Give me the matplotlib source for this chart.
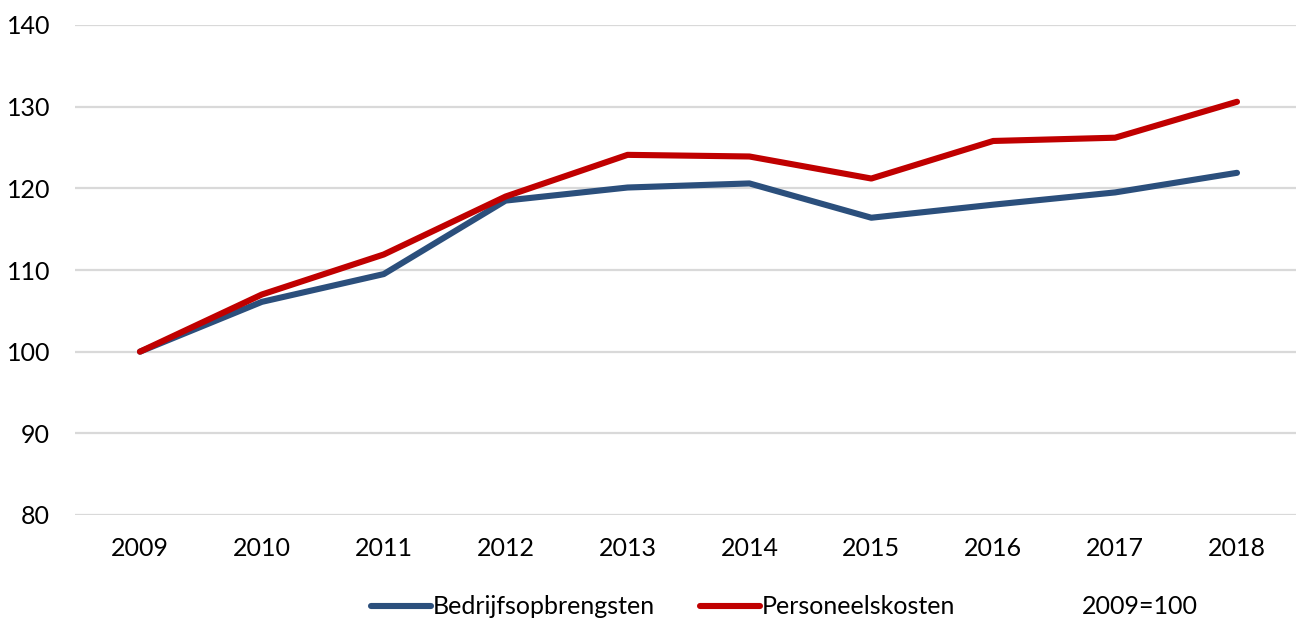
import matplotlib.pyplot as plt

plt.rcParams['font.family'] = ['Lato', 'DejaVu Sans']

years = ['2009', '2010', '2011', '2012', '2013', '2014', '2015', '2016', '2017', '2018']
bedrijfsopbrengsten = [100, 106.1, 109.5, 118.5, 120.1, 120.6, 116.4, 118.0, 119.5, 121.9]
personeelskosten = [100, 107.0, 111.9, 119.0, 124.1, 123.9, 121.2, 125.8, 126.2, 130.6]
yticks = [80, 90, 100, 110, 120, 130, 140]

fig = plt.figure(figsize=(12.96, 6.24), dpi=100)
ax = fig.add_axes([75 / 1296, 1 - 515 / 624, 1 - 75 / 1296, 490 / 624])

x = range(len(years))
ax.plot(x, bedrijfsopbrengsten, color='#2B4F7C', lw=4.4, solid_capstyle='round',
        label='Bedrijfsopbrengsten', zorder=3)
ax.plot(x, personeelskosten, color='#C00000', lw=4.4, solid_capstyle='round',
        label='Personeelskosten', zorder=3)

ax.set_xlim(-0.533, 9.484)
ax.set_ylim(80, 140)
ax.set_yticks(yticks)
ax.set_xticks(list(x))
ax.set_xticklabels(years)
ax.grid(axis='y', color='#d9d9d9', lw=1.6)
ax.set_axisbelow(True)
for s in ax.spines.values():
    s.set_visible(False)
ax.tick_params(length=0, labelsize=18, colors='black')
ax.tick_params(axis='y', pad=18)
ax.tick_params(axis='x', pad=16)

fig.legend(loc='center', bbox_to_anchor=(663 / 1296, 1 - 607 / 624), ncol=2,
           frameon=False, fontsize=18, handlelength=2.4, handletextpad=0.08,
           columnspacing=1.8)
fig.text(1140 / 1296, 1 - 607 / 624, '2009=100', ha='center', va='center', fontsize=18)

fig.savefig('out.png', dpi=100)
